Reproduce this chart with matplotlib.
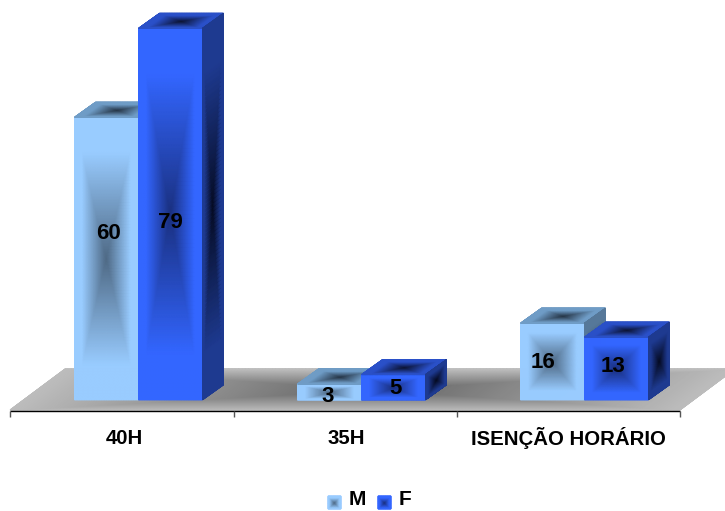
import numpy as np
import matplotlib
matplotlib.use("Agg")
import matplotlib.pyplot as plt
from matplotlib.colors import LinearSegmentedColormap

plt.rcParams["font.family"] = ["Liberation Sans", "DejaVu Sans"]

categories = ["40H", "35H", "ISENÇÃO HORÁRIO"]
series_names = ["M", "F"]
values_m = [60, 3, 16]
values_f = [79, 5, 13]

WIDTH, HEIGHT = 725, 511
X0, X_UNIT = 138.5, 223.0     # pixel position of first group centre, pixels per group
Y0, Y_UNIT = 398.0, 4.68      # pixel row of value 0, pixels per value unit
BAR_W = 64.0 / X_UNIT
DEPTH_X = 21 / X_UNIT
DEPTH_Y = 15 / Y_UNIT
BASE = -0.4


def col(px):
    return (np.asarray(px, float) - X0) / X_UNIT


def val(py):
    return (Y0 - np.asarray(py, float)) / Y_UNIT


def ramp(center, edge):
    return LinearSegmentedColormap.from_list("r", [center, edge])


def quad(ax, origin, e1, e2, cmap, flat=0.75, n=90, z=1):
    """Fill a parallelogram with a rectangular gradient running from its centre out."""
    s = np.linspace(0, 1, n + 1)
    u, v = np.meshgrid(s, s)
    X = origin[0] + u * e1[0] + v * e2[0]
    Y = origin[1] + u * e1[1] + v * e2[1]
    t = np.maximum(np.abs(2 * u - 1), np.abs(2 * v - 1))
    t = np.minimum(t / flat, 1)
    ax.pcolormesh(X, Y, t, cmap=cmap, vmin=0, vmax=1, shading="gouraud", zorder=z)


def box(ax, left, top, style):
    quad(ax, (left, BASE), (BAR_W, 0), (0, top - BASE), style["front"], z=3)
    quad(ax, (left, top), (BAR_W, 0), (DEPTH_X, DEPTH_Y), style["top"], z=3)
    quad(ax, (left + BAR_W, BASE), (DEPTH_X, DEPTH_Y), (0, top - BASE), style["side"], z=3)


styles = {
    "M": {
        "front": ramp("#4f6a86", "#99ccff"),
        "top": ramp("#28384a", "#6f9cc6"),
        "side": ramp("#2c3e52", "#567899"),
    },
    "F": {
        "front": ramp("#1a3080", "#3366ff"),
        "top": ramp("#0d1638", "#2a50c8"),
        "side": ramp("#060c24", "#1e3a90"),
    },
}

fig = plt.figure(figsize=(WIDTH / 100, HEIGHT / 100), dpi=100)
ax = fig.add_axes([0, 0, 1, 1])
ax.set_xlim(col(0), col(WIDTH))
ax.set_ylim(val(HEIGHT), val(0))
ax.axis("off")

# Floor plane with its dark centre
floor_cmap = ramp("#646464", "#bdbdbd")
quad(ax, (col(10), val(410)), (col(680) - col(10), 0),
     (col(65) - col(10), val(369) - val(410)), floor_cmap, flat=1.0, n=200, z=1)

# Category axis along the front of the floor
edges = [10, 234, 457, 680]
ax.plot(col([edges[0], edges[-1]]), val([410.5, 410.5]), color="black", lw=1.0, zorder=2,
        solid_capstyle="butt")
for e in edges:
    ax.plot(col([e, e]), val([410.5, 417]), color="#555555", lw=1.0, zorder=2,
            solid_capstyle="butt")

# Bars: M then F in every group
for i in range(len(categories)):
    box(ax, i - BAR_W, values_m[i], styles["M"])
    box(ax, i, values_f[i], styles["F"])

# Value labels sit at hand-picked spots on the front faces
label_dx = [[2, 0], [-2, 2], [-9, -4]]
label_py = [[233, 223], [396, 388], [362, 366]]
for i in range(len(categories)):
    for j, v in enumerate((values_m[i], values_f[i])):
        cx = i + (j - 0.5) * BAR_W + label_dx[i][j] / X_UNIT
        ax.text(cx, val(label_py[i][j]), str(v), ha="center", va="center",
                fontsize=16, fontweight="bold", color="black", zorder=5)

# Category labels centred between ticks
label_shift = [2, 0.5, 0]
for i, name in enumerate(categories):
    ax.text(col((edges[i] + edges[i + 1]) / 2 + label_shift[i]), val(438), name,
            ha="center", va="center", fontsize=14.7, fontweight="bold", color="black", zorder=5)

# Legend
for name, sw_x, tx_x in zip(series_names, (328, 378), (349, 399)):
    quad(ax, (col(sw_x), val(509)), (13 / X_UNIT, 0), (0, 13 / Y_UNIT),
         styles[name]["front"], n=20, z=5)
    ax.text(col(tx_x), val(499), name, ha="left", va="center",
            fontsize=15, fontweight="bold", color="black", zorder=5)

fig.savefig("out.png", dpi=100, facecolor="white")
